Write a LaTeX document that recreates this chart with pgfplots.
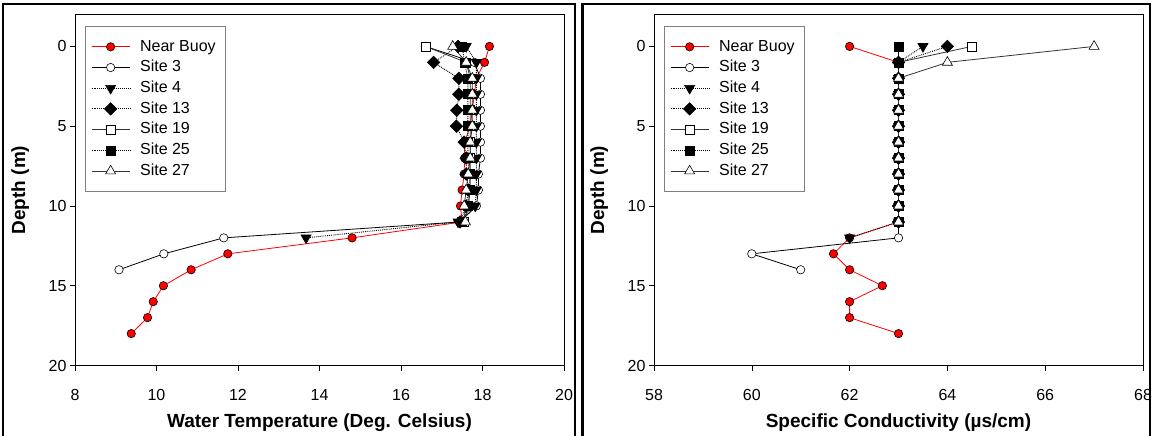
\documentclass[border=0pt]{standalone}
\usepackage{fontspec}
\setmainfont{Liberation Sans}
\usepackage{pgfplots}
\pgfplotsset{compat=1.18}

\pgfplotsset{
  prof/.style={
    scale only axis, width=489bp, height=351bp,
    y dir=reverse, ymin=-2, ymax=20, ytick={0,5,10,15,20},
    tick align=outside, tick pos=left, major tick length=5bp,
    axis line style={black, line width=0.6bp},
    tick style={black, line width=0.6bp},
    every tick label/.append style={font=\fontsize{16bp}{19bp}\selectfont},
    xticklabel style={anchor=base, yshift=-29.5bp},
    /pgf/number format/assume math mode=true,
    label style={font=\bfseries\fontsize{19bp}{23bp}\selectfont},
    xlabel style={at={(axis description cs:0.5,0)}, anchor=base, yshift=-61.5bp},
    ylabel style={at={(axis description cs:-0.1022,0.5)}, anchor=base},
    ylabel={Depth (m)},
    legend cell align=left,
    legend style={draw=gray, line width=0.8bp, fill=white,
      font=\fontsize{16bp}{19bp}\selectfont,
      inner xsep=6bp, inner ysep=10bp, row sep=0pt,
      /tikz/every odd column/.append style={column sep=6bp},
      nodes={text height=12bp, text depth=3.5bp, inner ysep=2.6bp, inner xsep=4bp}},
    legend image code/.code={\draw[mark repeat=2,mark phase=2,##1] plot coordinates {(0bp,0bp) (19bp,0bp) (38bp,0bp)};},
  },
  nb/.style={red, line width=0.8bp, mark=*, mark size=4.2bp, mark options={solid, fill=red, draw=black, line width=0.6bp}},
  s3/.style={black, line width=0.8bp, mark=*, mark size=4.2bp, mark options={solid, fill=white, draw=black, line width=0.6bp}},
  s4/.style={black, densely dotted, line width=0.9bp, mark=triangle*, mark size=5.8bp, mark options={solid, rotate=180, fill=black, draw=black, line width=0.6bp}},
  s13/.style={black, densely dotted, line width=0.9bp, mark=square*, mark size=4.4bp, mark options={solid, rotate=45, fill=black, draw=black, line width=0.6bp}},
  s19/.style={black!80, line width=0.8bp, mark=square*, mark size=4.5bp, mark options={solid, fill=white, draw=black, line width=0.6bp}},
  s25/.style={black, densely dotted, line width=0.9bp, mark=square*, mark size=4.5bp, mark options={solid, fill=black, draw=black, line width=0.6bp}},
  s27/.style={black!80, line width=0.8bp, mark=triangle*, mark size=5.8bp, mark options={solid, fill=white, draw=black, line width=0.6bp}},
}

\begin{document}
\begin{tikzpicture}
\path[use as bounding box] (0bp,0bp) rectangle (1153bp,436bp);
% panel frames
\draw[line width=2.5bp] (3bp,-10bp) -- (3bp,432bp) -- (575bp,432bp) -- (575bp,-10bp);
\draw[line width=2.5bp] (582.5bp,-10bp) -- (582.5bp,432bp) -- (1150bp,432bp) -- (1150bp,-10bp);

\begin{axis}[prof, at={(75bp,70.5bp)}, anchor=south west,
  xmin=8, xmax=20, xtick={8,10,...,20},
  xlabel={Water Temperature (Deg. Celsius)},
  legend style={at={(0.02,0.967)}, anchor=north west}]
\addplot[nb] coordinates {(18.17,0) (18.05,1) (17.85,2) (17.8,3) (17.75,4) (17.7,5) (17.56,6) (17.56,7) (17.55,8) (17.5,9) (17.46,10) (17.5,11) (14.8,12) (11.75,13) (10.85,14) (10.17,15) (9.92,16) (9.78,17) (9.38,18)};
\addlegendentry{Near Buoy}
\addplot[s3] coordinates {(16.6,0) (17.8,1) (17.95,2) (17.95,3) (17.95,4) (17.95,5) (17.95,6) (17.95,7) (17.9,8) (17.9,9) (17.85,10) (17.45,11) (11.65,12) (10.18,13) (9.08,14)};
\addlegendentry{Site 3}
\addplot[s4] coordinates {(17.6,0) (17.85,1) (17.85,2) (17.85,3) (17.85,4) (17.85,5) (17.85,6) (17.85,7) (17.85,8) (17.85,9) (17.82,10) (17.4,11) (13.67,12)};
\addlegendentry{Site 4}
\addplot[s13] coordinates {(17.4,0) (16.8,1) (17.42,2) (17.42,3) (17.37,4) (17.36,5) (17.55,6) (17.6,7) (17.6,8) (17.65,9) (17.6,10) (17.45,11)};
\addlegendentry{Site 13}
\addplot[s19] coordinates {(16.6,0) (17.6,1) (17.7,2) (17.7,3) (17.7,4) (17.7,5) (17.7,6) (17.7,7) (17.7,8) (17.7,9) (17.65,10) (17.55,11)};
\addlegendentry{Site 19}
\addplot[s25] coordinates {(17.5,0) (17.56,1) (17.64,2) (17.64,3) (17.64,4) (17.64,5) (17.64,6) (17.64,7) (17.68,8) (17.68,9) (17.65,10) (17.5,11)};
\addlegendentry{Site 25}
\addplot[s27] coordinates {(17.27,0) (17.6,1) (17.75,2) (17.75,3) (17.75,4) (17.75,5) (17.7,6) (17.7,7) (17.65,8) (17.6,9) (17.55,10) (17.58,11)};
\addlegendentry{Site 27}
\end{axis}

\begin{axis}[prof, at={(654bp,70.5bp)}, anchor=south west,
  xmin=58, xmax=68, xtick={58,60,...,68},
  xlabel={Specific Conductivity (µs/cm)},
  legend style={at={(0.02,0.967)}, anchor=north west}]
\addplot[nb] coordinates {(62,0) (63,1) (63,2) (63,3) (63,4) (63,5) (63,6) (63,7) (63,8) (63,9) (63,10) (63,11) (62,12) (61.67,13) (62,14) (62.67,15) (62,16) (62,17) (63,18)};
\addlegendentry{Near Buoy}
\addplot[s3] coordinates {(63,0) (63,1) (63,2) (63,3) (63,4) (63,5) (63,6) (63,7) (63,8) (63,9) (63,10) (63,11) (63,12) (60,13) (61,14)};
\addlegendentry{Site 3}
\addplot[s4] coordinates {(63.5,0) (63,1) (63,2) (63,3) (63,4) (63,5) (63,6) (63,7) (63,8) (63,9) (63,10) (63,11) (62,12)};
\addlegendentry{Site 4}
\addplot[s13] coordinates {(64,0) (63,1) (63,2) (63,3) (63,4) (63,5) (63,6) (63,7) (63,8) (63,9) (63,10) (63,11)};
\addlegendentry{Site 13}
\addplot[s19] coordinates {(64.5,0) (63,1) (63,2) (63,3) (63,4) (63,5) (63,6) (63,7) (63,8) (63,9) (63,10) (63,11)};
\addlegendentry{Site 19}
\addplot[s25] coordinates {(63,0) (63,1) (63,2) (63,3) (63,4) (63,5) (63,6) (63,7) (63,8) (63,9) (63,10) (63,11)};
\addlegendentry{Site 25}
\addplot[s27] coordinates {(67,0) (64,1) (63,2) (63,3) (63,4) (63,5) (63,6) (63,7) (63,8) (63,9) (63,10) (63,11)};
\addlegendentry{Site 27}
\end{axis}
\end{tikzpicture}
\end{document}
